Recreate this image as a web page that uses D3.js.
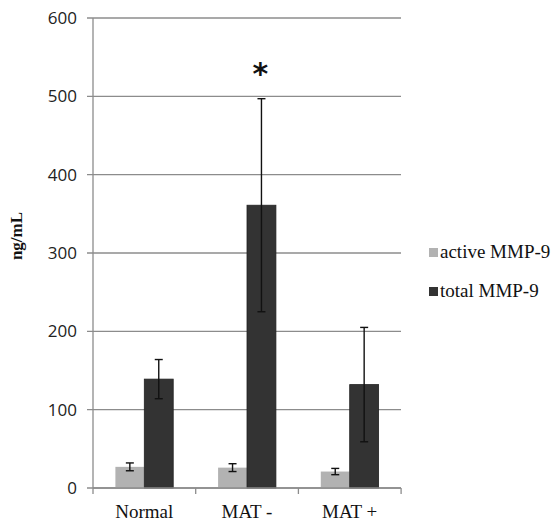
<!DOCTYPE html>
<html>
<head>
<meta charset="utf-8">
<script src="https://cdn.jsdelivr.net/npm/d3@7"></script>
<style>
body { margin: 0; background: #fff; }
</style>
</head>
<body>
<svg id="chart" width="553" height="523"></svg>
<script>
// chart data
var categories = ["Normal", "MAT -", "MAT +"];
var seriesNames = ["active MMP-9", "total MMP-9"];
var activeVals = [27, 26, 21];
var activeErr = [5, 5, 4];
var totalVals = [139, 361, 132];
var totalErr = [25, 136, 73];
var yTicks = [0, 100, 200, 300, 400, 500, 600];
var sigMarks = ["", "*", ""];

var colors = ["#b2b2b2", "#333333"];
var serif = "'Liberation Serif', 'Times New Roman', serif";

var svg = d3.select("#chart");
var x0 = 93, x1 = 401, yTop = 18, yBot = 488;

var x = d3.scaleBand().domain(categories).range([x0, x1]).paddingInner(0.437).paddingOuter(0.218);
var xSub = d3.scaleBand().domain(seriesNames).range([0, x.bandwidth()]);
var y = d3.scaleLinear().domain([0, 600]).range([yBot, yTop]);

// gridlines
svg.append("g").selectAll("line")
    .data(yTicks)
    .enter()
    .append("line")
    .attr("x1", x0 - 6)
    .attr("x2", x1)
    .attr("y1", function(d) { return y(d); })
    .attr("y2", function(d) { return y(d); })
    .style("stroke", "#8c8c8c")
    .style("stroke-width", 1.3);

// tick labels
svg.append("g").selectAll("text")
    .data(yTicks)
    .enter()
    .append("text")
    .attr("x", 77)
    .attr("y", function(d) { return y(d); })
    .attr("dy", "0.35em")
    .attr("text-anchor", "end")
    .style("font-family", "'Open Sans', sans-serif")
    .style("font-size", "17px")
    .style("fill", "#222")
    .text(function(d) { return d; });

// bars
var rows = categories.map(function(c, i) {
    return [
        {cat: c, s: seriesNames[0], v: activeVals[i], e: activeErr[i]},
        {cat: c, s: seriesNames[1], v: totalVals[i], e: totalErr[i]}
    ];
});

var groups = svg.append("g").selectAll("g.grp")
    .data(rows)
    .enter()
    .append("g")
    .attr("class", "grp")
    .attr("transform", function(d) { return "translate(" + x(d[0].cat) + ",0)"; });

groups.selectAll("rect")
    .data(function(d) { return d; })
    .enter()
    .append("rect")
    .attr("x", function(d) { return xSub(d.s); })
    .attr("width", xSub.bandwidth())
    .attr("y", function(d) { return y(d.v); })
    .attr("height", function(d) { return y(0) - y(d.v); })
    .style("fill", function(d, i) { return colors[i]; })
    .style("stroke", function(d, i) { return i == 1 ? "#222" : "none"; })
    .style("stroke-width", 0.8);

// error bars
var eb = groups.selectAll("g.err")
    .data(function(d) { return d; })
    .enter()
    .append("g")
    .attr("class", "err")
    .style("stroke", "#111")
    .style("stroke-width", 1.4);

eb.append("line")
    .attr("x1", function(d) { return xSub(d.s) + xSub.bandwidth() / 2; })
    .attr("x2", function(d) { return xSub(d.s) + xSub.bandwidth() / 2; })
    .attr("y1", function(d) { return y(d.v + d.e); })
    .attr("y2", function(d) { return y(d.v - d.e); });

[1, -1].forEach(function(sign) {
    eb.append("line")
        .attr("x1", function(d) { return xSub(d.s) + xSub.bandwidth() / 2 - 4; })
        .attr("x2", function(d) { return xSub(d.s) + xSub.bandwidth() / 2 + 4; })
        .attr("y1", function(d) { return y(d.v + sign * d.e); })
        .attr("y2", function(d) { return y(d.v + sign * d.e); });
});

// significance marker
groups.append("text")
    .attr("x", xSub(seriesNames[1]) + xSub.bandwidth() / 2 - 1)
    .attr("y", function(d, i) { return y(totalVals[i] + totalErr[i]) - 15; })
    .attr("text-anchor", "middle")
    .style("font-family", "'DejaVu Sans', sans-serif")
    .style("font-weight", "bold")
    .style("font-size", "30px")
    .style("fill", "#111")
    .text(function(d, i) { return sigMarks[i]; });

// x axis
svg.append("line")
    .attr("x1", x0).attr("x2", x1)
    .attr("y1", yBot).attr("y2", yBot)
    .style("stroke", "#8c8c8c").style("stroke-width", 1.3);
svg.append("line")
    .attr("x1", x0).attr("x2", x0)
    .attr("y1", yTop).attr("y2", yBot + 6)
    .style("stroke", "#8c8c8c").style("stroke-width", 1.3);

var step = x.step();
svg.append("g").selectAll("line")
    .data(categories)
    .enter()
    .append("line")
    .attr("x1", function(d, i) { return x0 + step * (i + 1); })
    .attr("x2", function(d, i) { return x0 + step * (i + 1); })
    .attr("y1", yBot)
    .attr("y2", yBot + 6)
    .style("stroke", "#8c8c8c").style("stroke-width", 1.3);

svg.append("g").selectAll("text")
    .data(categories)
    .enter()
    .append("text")
    .attr("x", function(d) { return x(d) + x.bandwidth() / 2; })
    .attr("y", 518)
    .attr("text-anchor", "middle")
    .style("font-family", serif)
    .style("font-size", "19px")
    .style("fill", "#111")
    .text(function(d) { return d; });

// y axis title
svg.append("text")
    .attr("transform", "translate(22,236) rotate(-90)")
    .attr("text-anchor", "middle")
    .style("font-family", serif)
    .style("font-weight", "bold")
    .style("font-size", "17px")
    .style("fill", "#111")
    .text("ng/mL");

// legend
var legend = svg.append("g").selectAll("g")
    .data(seriesNames)
    .enter()
    .append("g")
    .attr("transform", function(d, i) { return "translate(429," + (252 + i * 39) + ")"; });

legend.append("rect")
    .attr("x", 0).attr("y", -4)
    .attr("width", 9).attr("height", 9)
    .style("fill", function(d, i) { return colors[i]; });

legend.append("text")
    .attr("x", 11)
    .attr("y", 0)
    .attr("dy", "0.33em")
    .style("font-family", serif)
    .style("font-size", "19px")
    .style("fill", "#111")
    .text(function(d) { return d; });
</script>
</body>
</html>
